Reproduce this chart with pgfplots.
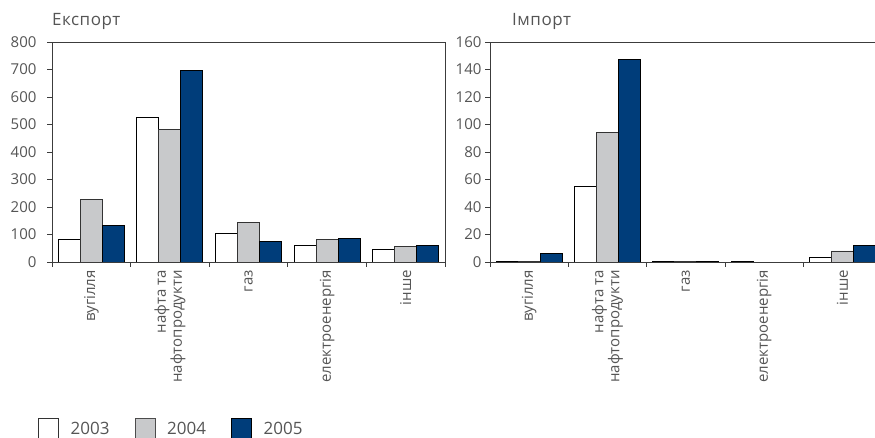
\documentclass[border=0pt]{standalone}
\usepackage{fontspec}
\setmainfont{Open Sans}
\usepackage{pgfplots}
\pgfplotsset{compat=1.18}
\definecolor{navy}{RGB}{0,61,122}
\definecolor{bargray}{RGB}{200,201,203}
\definecolor{txt}{RGB}{85,85,85}
\definecolor{axln}{RGB}{60,60,60}
\pgfplotsset{
  myaxis/.style={
    scale only axis, height=220pt,
    ybar=0pt, bar width=22pt,
    xmin=-0.5, xmax=4.5, ymin=0,
    axis line style={axln, line width=0.8pt},
    tick style={axln, line width=0.8pt},
    tick align=outside, xtick pos=bottom, ytick pos=left,
    xtick={0,...,4}, major x tick style={draw=none},
    minor xtick={-0.5,0.5,...,4.5}, minor tick length=5pt,
    major tick length=5pt,
    xticklabels={вугілля, {нафта та\\нафтопродукти}, газ, електроенергія, інше},
    xticklabel style={rotate=90, anchor=east, align=right, font=\fontsize{15}{16}\selectfont, text=txt, inner sep=3pt},
    yticklabel style={font=\fontsize{15}{16}\selectfont, text=txt},
    /pgf/number format/assume math mode=true,
    title style={anchor=base west, at={(0,1)}, font=\fontsize{17}{18}\selectfont\addfontfeatures{LetterSpace=3}, text=txt, inner sep=0pt},
    enlarge x limits=false,
  },
  b3/.style={fill=white, draw=black, line width=0.9pt,
    legend image code/.code={\draw[fill=white, draw=black!80, line width=0.6pt] (0pt,-14pt) rectangle (20pt,10pt);}},
  b4/.style={fill=bargray, draw=black!80, line width=0.9pt,
    legend image code/.code={\draw[fill=bargray, draw=black!70, line width=0.6pt] (0pt,-14pt) rectangle (20pt,10pt);}},
  b5/.style={fill=navy, draw=black, line width=0.9pt,
    legend image code/.code={\draw[fill=navy, draw=black, line width=0.6pt] (0pt,-14pt) rectangle (20pt,10pt);}},
}
\begin{document}
\begin{tikzpicture}[x=1pt,y=1pt]
\useasboundingbox (0,0) rectangle (875,438);
\begin{axis}[myaxis, at={(52pt,176pt)}, anchor=south west, width=393pt,
  ymax=800, ytick={0,100,...,800},
  yticklabel style={xshift=-7pt},
  title={Експорт}, title style={yshift=10pt},
  legend columns=3,
  legend style={at={(-0.036,-0.767)}, anchor=west, draw=none, fill=none, inner sep=0pt,
    font=\fontsize{17}{18}\selectfont, text=txt,
    /tikz/every even column/.append style={column sep=23pt},
    /tikz/every odd column/.append style={column sep=10pt}},
]
\addplot[b3] coordinates {(0,81) (1,526) (2,105) (3,61) (4,46)};
\addplot[b4] coordinates {(0,227) (1,481) (2,143) (3,81) (4,57)};
\addplot[b5] coordinates {(0,133) (1,698) (2,74) (3,85) (4,60)};
\legend{2003,2004,2005}
\end{axis}
\begin{axis}[myaxis, at={(490pt,176pt)}, anchor=south west, width=391.5pt,
  ymax=160, ytick={0,20,...,160},
  yticklabel style={xshift=0pt},
  title={Імпорт}, title style={yshift=10pt, xshift=22pt},
]
\addplot[b3] coordinates {(0,0.3) (1,55) (2,0.3) (3,0.3) (4,3.4)};
\addplot[b4] coordinates {(0,0.3) (1,94) (2,0.3) (4,8)};
\addplot[b5] coordinates {(0,6) (1,147) (2,0.3) (4,12)};
\end{axis}
\end{tikzpicture}
\end{document}
